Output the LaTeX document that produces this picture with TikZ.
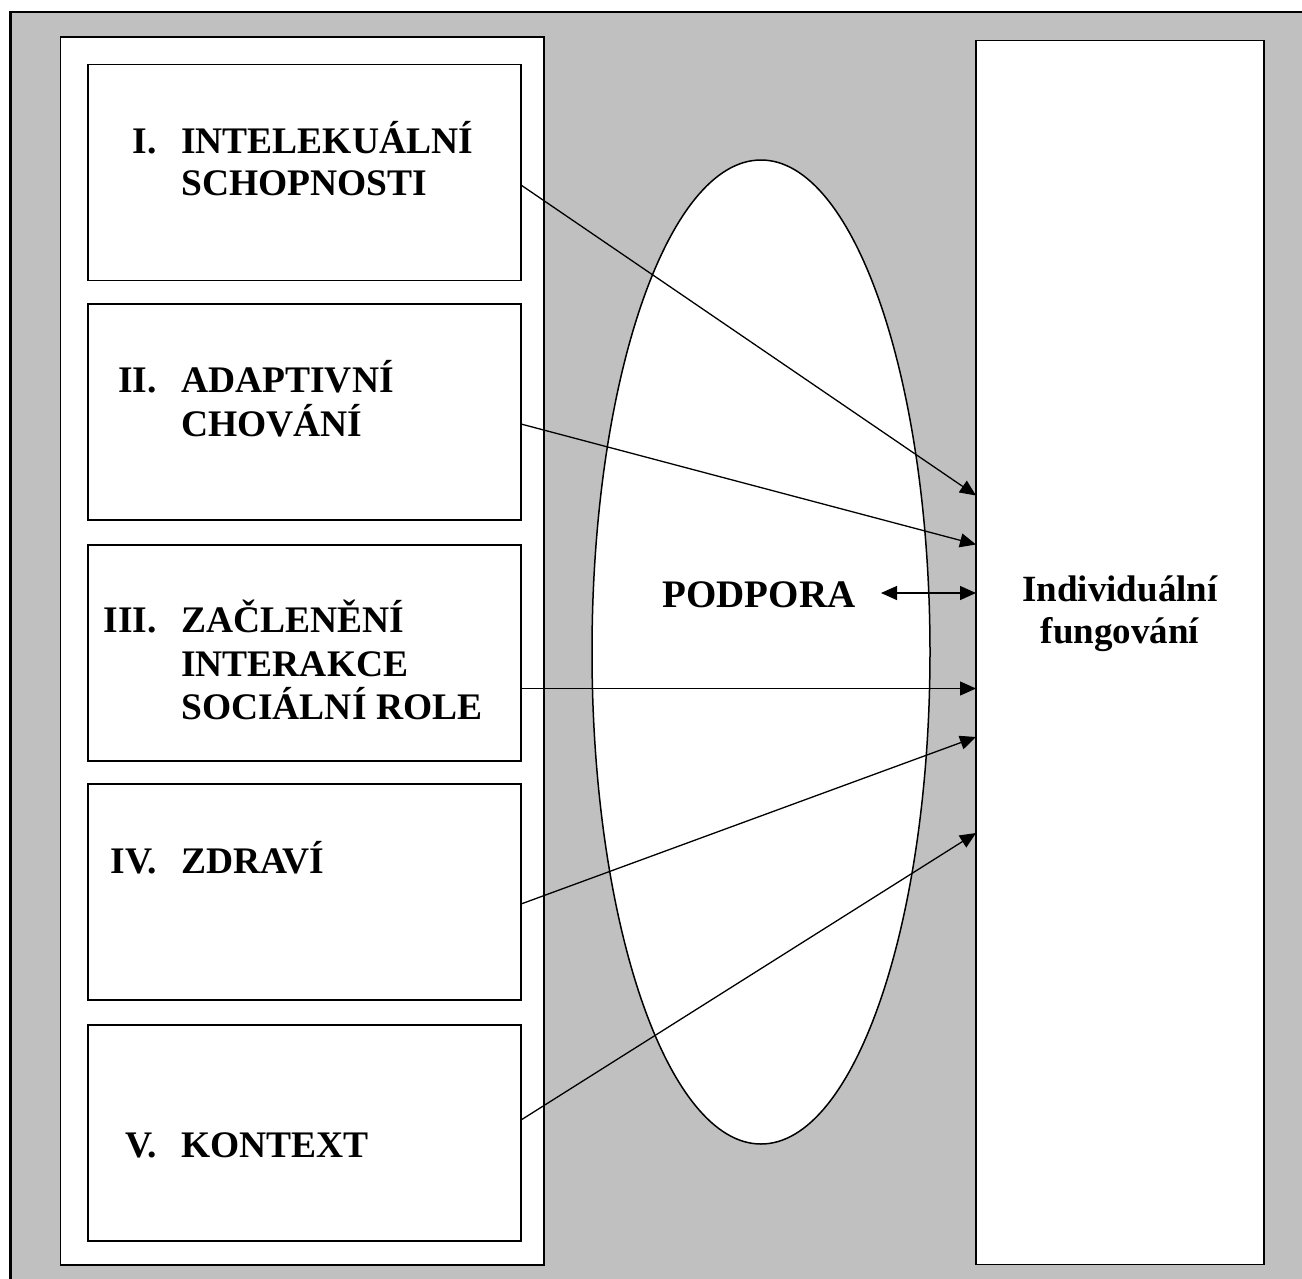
\documentclass[tikz,border=0pt]{standalone}
\usepackage{fontspec}
\setmainfont{Liberation Serif}
\newfontfamily\lblfont{Liberation Serif}
\usetikzlibrary{arrows.meta,shapes.geometric}
\definecolor{bggray}{HTML}{C0C0C0}
\tikzset{
  panel/.style={draw=black, line width=1.6pt, fill=white},
  itembox/.style={draw=black, line width=1.4pt, fill=white, rectangle, inner sep=0pt, minimum width=433pt, minimum height=216pt},
  numtxt/.style={anchor=base east, inner sep=0pt, font=\lblfont\bfseries\fontsize{37.5}{43}\selectfont},
  lbltxt/.style={anchor=base west, inner sep=0pt, font=\lblfont\bfseries\fontsize{37.5}{43}\selectfont},
  indtxt/.style={anchor=base, inner sep=0pt, font=\lblfont\bfseries\fontsize{37}{43}\selectfont},
  conn/.style={line width=1.3pt, -{Triangle[length=16pt,width=14pt]}},
  dconn/.style={line width=1.3pt, {Triangle[length=16pt,width=14pt]}-{Triangle[length=16pt,width=14pt]}},
}
\begin{document}
\begin{tikzpicture}[x=1pt,y=-1pt]
\useasboundingbox (0,0) rectangle (1302,1278);
\clip (0,0) rectangle (1302,1278);
% outer frame
\draw[fill=bggray, line width=2.6pt] (10.5,12) rectangle (1320,1300);
% panels
\draw[panel] (60.5,37) rectangle (544,1265);
\node[panel, rectangle, inner sep=0pt, minimum width=288pt, minimum height=1224pt] (right) at (1120,652.5) {};
% ellipse
\node[draw=black, line width=1.5pt, fill=white, ellipse, inner sep=0pt, minimum width=338pt, minimum height=984pt] (ell) at (761,652) {};
% item boxes
\node[itembox] (b1) at (304.5,172.5) {};
\node[itembox] (b2) at (304.5,412) {};
\node[itembox] (b3) at (304.5,653) {};
\node[itembox] (b4) at (304.5,892) {};
\node[itembox] (b5) at (304.5,1133) {};
% labels
\node[numtxt] (n1) at (157,153.3) {I.};
\node[lbltxt] (l1a) at (181,153.3) {INTELEKUÁLNÍ};
\node[lbltxt] (l1b) at (181,195.7) {SCHOPNOSTI};
\node[numtxt] (n2) at (157,392.7) {II.};
\node[lbltxt] (l2a) at (181,392.7) {ADAPTIVNÍ};
\node[lbltxt] (l2b) at (181,436) {CHOVÁNÍ};
\node[numtxt] (n3) at (157,632.7) {III.};
\node[lbltxt] (l3a) at (181,632.7) {ZAČLENĚNÍ};
\node[lbltxt] (l3b) at (181,676) {INTERAKCE};
\node[lbltxt] (l3c) at (181,719.3) {SOCIÁLNÍ ROLE};
\node[numtxt] (n4) at (157,873) {IV.};
\node[lbltxt] (l4a) at (181,873) {ZDRAVÍ};
\node[numtxt] (n5) at (157,1157) {V.};
\node[lbltxt] (l5a) at (181,1157) {KONTEXT};
% right label
\node[indtxt] (ind1) at (1120,601) {Individuální};
\node[indtxt] (ind2) at (1120,643) {fungování};
% podpora
\node[anchor=base, inner sep=0pt, font=\lblfont\bfseries\fontsize{39}{44}\selectfont] (pod) at (759,607) {PODPORA};
% connector coordinates
\coordinate (s1) at (521,185);
\coordinate (s2) at (521,424);
\coordinate (s3) at (521,688.5);
\coordinate (s4) at (521,904);
\coordinate (s5) at (521,1120);
\coordinate (t1) at (976,495.5);
\coordinate (t2) at (976,544.5);
\coordinate (t3) at (976,688.5);
\coordinate (t4) at (976,737);
\coordinate (t5) at (976,833);
\coordinate (pd) at (881,593);
\coordinate (td) at (976,593);
\draw[conn] (s1) -- (t1);
\draw[conn] (s2) -- (t2);
\draw[conn] (s3) -- (t3);
\draw[conn] (s4) -- (t4);
\draw[conn] (s5) -- (t5);
\draw[dconn] (pd) -- (td);
\end{tikzpicture}
\end{document}
